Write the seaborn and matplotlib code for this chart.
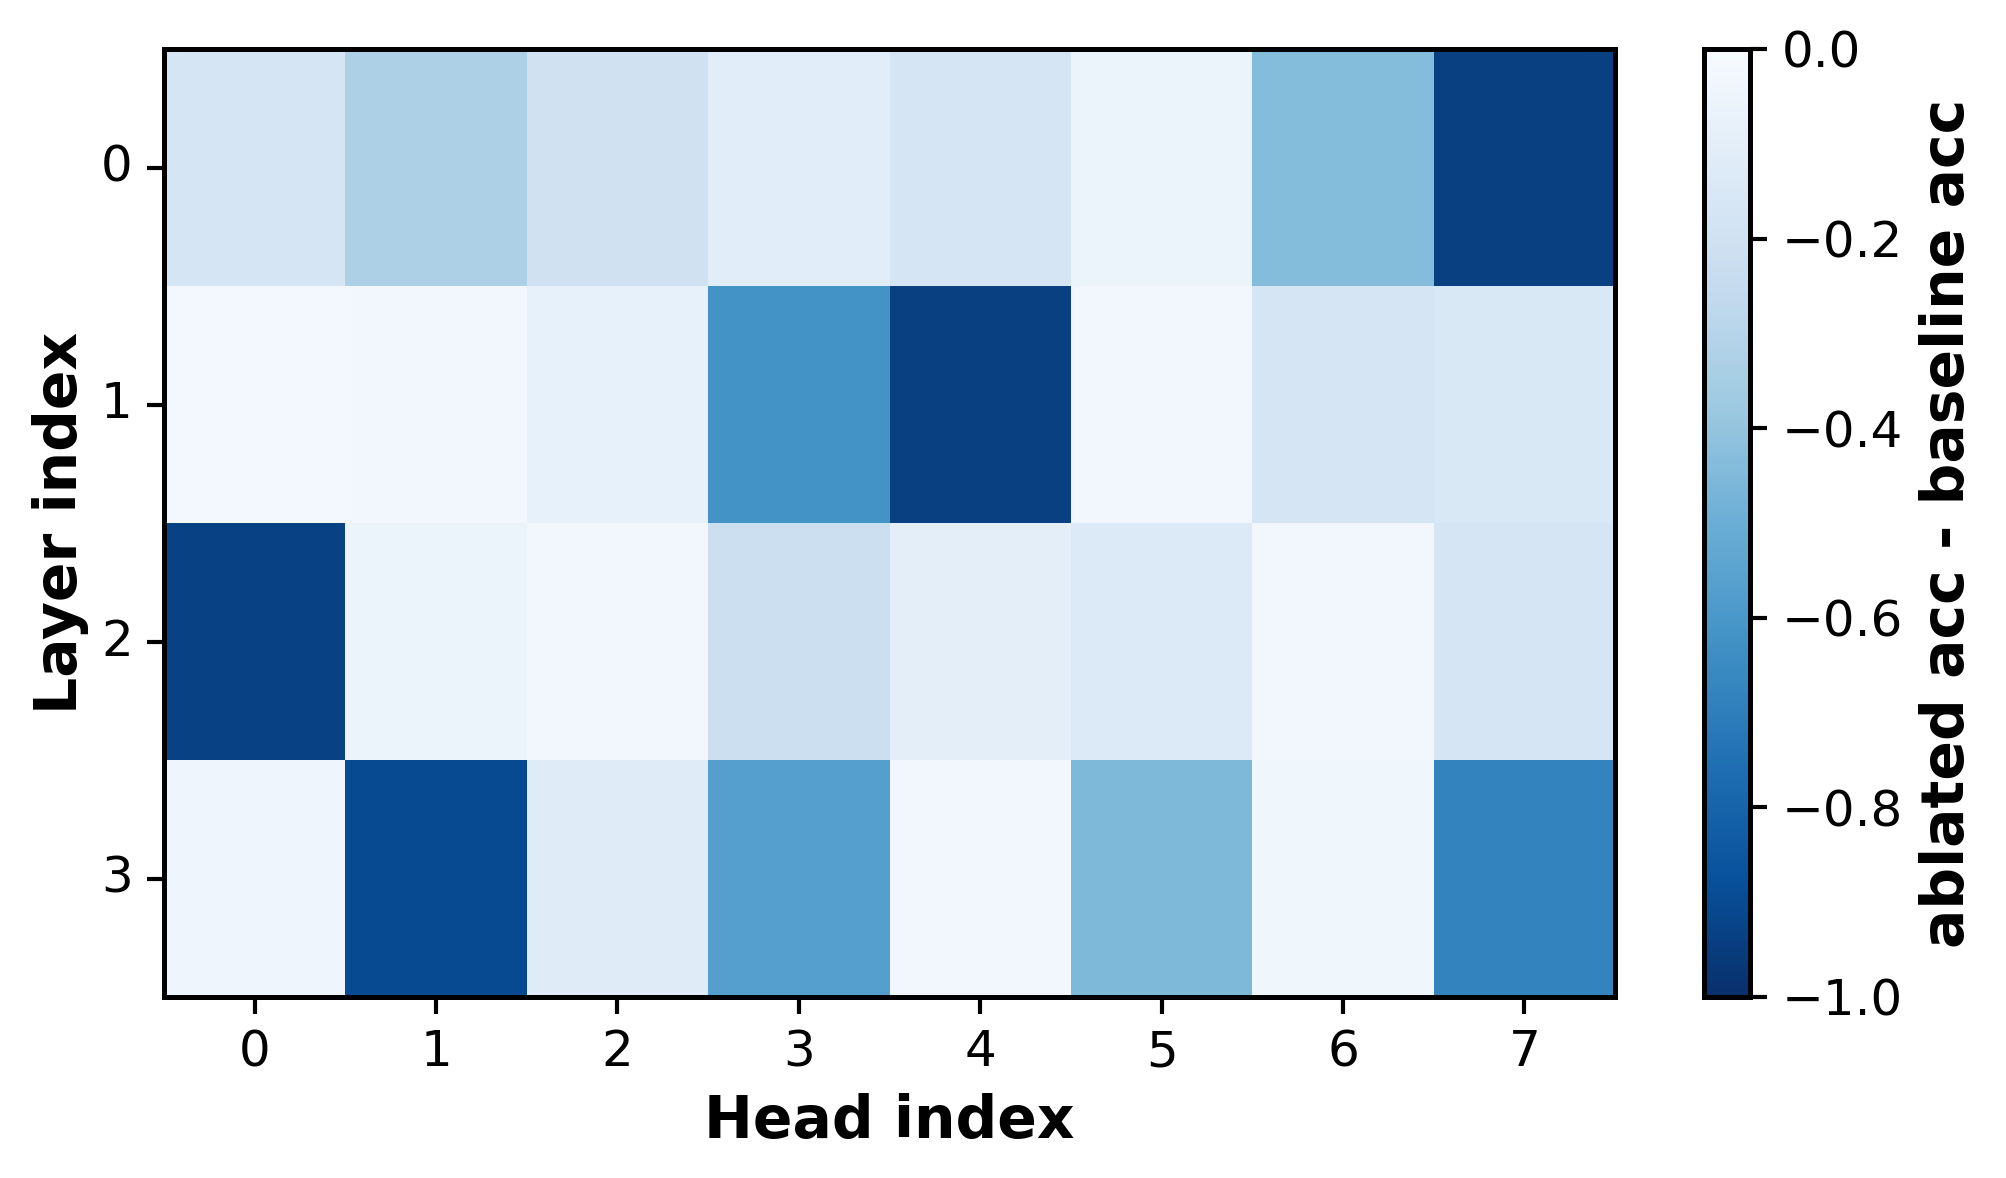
import numpy as np
import pandas as pd
import seaborn as sns
import matplotlib
matplotlib.use("Agg")
import matplotlib.pyplot as plt

heads = [0, 1, 2, 3, 4, 5, 6, 7]
layers = [0, 1, 2, 3]
layer0 = [-0.17, -0.33, -0.20, -0.11, -0.17, -0.06, -0.44, -0.94]
layer1 = [-0.02, -0.03, -0.08, -0.62, -0.94, -0.03, -0.17, -0.15]
layer2 = [-0.93, -0.06, -0.03, -0.22, -0.10, -0.14, -0.03, -0.17]
layer3 = [-0.05, -0.90, -0.12, -0.57, -0.03, -0.45, -0.04, -0.68]

df = pd.DataFrame([layer0, layer1, layer2, layer3], index=layers, columns=heads)

sns.set_style("white")
plt.rcParams['font.family'] = ['DejaVu Sans']
plt.rcParams['text.color'] = 'black'
plt.rcParams['axes.labelcolor'] = 'black'
plt.rcParams['xtick.color'] = 'black'
plt.rcParams['ytick.color'] = 'black'

W, H = 2006, 1178
dpi = 300
fig = plt.figure(figsize=(W / dpi, H / dpi), dpi=dpi)
ax = fig.add_axes([164 / W, 1 - 997 / H, (1615 - 164) / W, (997 - 49) / H])
cax = fig.add_axes([1704 / W, 1 - 997 / H, (1750 - 1704) / W, (997 - 49) / H])

sns.heatmap(df, ax=ax, cbar_ax=cax, cmap="Blues_r", vmin=-1, vmax=0,
            cbar_kws={"ticks": [0.0, -0.2, -0.4, -0.6, -0.8, -1.0]})

for s in ax.spines.values():
    s.set_visible(True)
    s.set_linewidth(1.2)
    s.set_color("black")
ax.tick_params(axis="both", which="both", length=4, width=1.0, labelsize=12,
               bottom=True, left=True, color="black", labelcolor="black")
ax.set_yticklabels([str(l) for l in layers], rotation=0)
ax.set_xticklabels([str(h) for h in heads], rotation=0)
ax.set_xlabel("Head index", fontsize=14, fontweight="bold", color="black")
ax.set_ylabel("Layer index", fontsize=14, fontweight="bold", color="black", labelpad=2.8)

cb = ax.collections[0].colorbar
cb.outline.set_visible(True)
cb.outline.set_linewidth(1.2)
cb.outline.set_edgecolor("black")
cax.tick_params(labelsize=12, length=4, width=1.0, right=True, color="black", labelcolor="black")
cb.set_ticklabels(["0.0", "\u22120.2", "\u22120.4", "\u22120.6", "\u22120.8", "\u22121.0"])
cb.set_label("ablated acc - baseline acc", fontsize=14, fontweight="bold", color="black")

fig.savefig("out.png", dpi=dpi)
